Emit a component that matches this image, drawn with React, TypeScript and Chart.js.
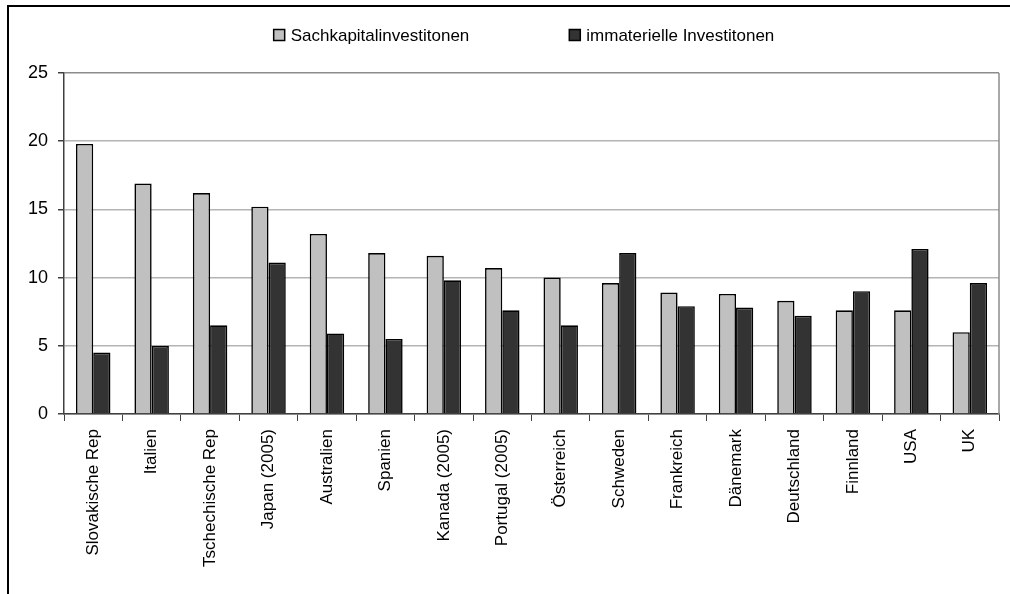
import React, { useEffect, useRef } from "react";
import { Chart, registerables } from "chart.js";

Chart.register(...registerables);

const categories = [
  "Slovakische Rep",
  "Italien",
  "Tschechische Rep",
  "Japan (2005)",
  "Australien",
  "Spanien",
  "Kanada (2005)",
  "Portugal (2005)",
  "Österreich",
  "Schweden",
  "Frankreich",
  "Dänemark",
  "Deutschland",
  "Finnland",
  "USA",
  "UK",
];

const seriesNames = ["Sachkapitalinvestitonen", "immaterielle Investitonen"];

const sachkapital = [19.8, 16.9, 16.2, 15.2, 13.2, 11.8, 11.6, 10.7, 10.0, 9.6, 8.9, 8.8, 8.3, 7.6, 7.6, 6.0];
const immateriell = [4.5, 5.0, 6.5, 11.1, 5.9, 5.5, 9.8, 7.6, 6.5, 11.8, 7.9, 7.8, 7.2, 9.0, 12.1, 9.6];

const yTicks = [0, 5, 10, 15, 20, 25];

const FONT_FAMILY = '"Liberation Sans Narrow", "Arial Narrow", "Liberation Sans", Arial, sans-serif';

const legendPlugin = {
  id: "customLegend",
  afterDraw(chart: any) {
    const ctx = chart.ctx;
    const ds = chart.data.datasets;
    ctx.save();
    ctx.font = `17px ${FONT_FAMILY}`;
    ctx.textBaseline = "middle";
    ctx.textAlign = "left";
    const box = 11;
    const gapBox = 6;
    const gapItem = 100;
    const widths = ds.map((d: any) => box + gapBox + ctx.measureText(d.label).width);
    const total = widths.reduce((a: number, b: number) => a + b, 0) + gapItem * (ds.length - 1);
    let x = 524 - total / 2;
    const y = 35;
    ds.forEach((d: any, i: number) => {
      ctx.fillStyle = d.backgroundColor;
      ctx.fillRect(x, y - box / 2, box, box);
      ctx.strokeStyle = "#000";
      ctx.lineWidth = 1.5;
      ctx.strokeRect(x, y - box / 2, box, box);
      ctx.fillStyle = "#000";
      ctx.fillText(d.label, x + box + gapBox, y + 1);
      x += widths[i] + gapItem;
    });
    ctx.restore();
  },
};

const borderPlugin = {
  id: "plotBorder",
  beforeDatasetsDraw(chart: any) {
    const { ctx, chartArea } = chart;
    ctx.save();
    ctx.strokeStyle = "#8c8c8c";
    ctx.lineWidth = 1.5;
    ctx.beginPath();
    ctx.moveTo(chartArea.right, chartArea.top);
    ctx.lineTo(chartArea.right, chartArea.bottom);
    ctx.stroke();
    ctx.restore();
  },
};

export default function App() {
  const ref = useRef<HTMLCanvasElement | null>(null);

  useEffect(() => {
    if (!ref.current) return;
    const chart = new Chart(ref.current, {
      type: "bar",
      data: {
        labels: categories,
        datasets: [
          {
            label: seriesNames[0],
            data: sachkapital,
            backgroundColor: "#c0c0c0",
            borderColor: "#000",
            borderWidth: 1.6,
            categoryPercentage: 0.59,
            barPercentage: 1,
          },
          {
            label: seriesNames[1],
            data: immateriell,
            backgroundColor: "#333333",
            borderColor: "#000",
            borderWidth: 1.6,
            categoryPercentage: 0.59,
            barPercentage: 1,
          },
        ],
      },
      options: {
        responsive: false,
        animation: false,
        devicePixelRatio: 1,
        layout: { padding: { top: 73, right: 11, left: 0, bottom: 0 } },
        plugins: {
          legend: { display: false },
          tooltip: { enabled: false },
        },
        scales: {
          x: {
            grid: {
              display: true,
              drawOnChartArea: false,
              drawTicks: true,
              tickLength: 7,
              color: "#404040",
              offset: true,
            },
            border: { color: "#404040", width: 1.5 },
            ticks: {
              minRotation: 90,
              maxRotation: 90,
              autoSkip: false,
              padding: 8,
              color: "#000",
              font: { family: FONT_FAMILY, size: 17 },
            },
            afterFit: (s: any) => {
              s.height = 180;
            },
          },
          y: {
            min: 0,
            max: 25,
            afterBuildTicks: (s: any) => {
              s.ticks = yTicks.map((v) => ({ value: v }));
            },
            grid: {
              color: (c: any) => (c.tick && c.tick.value === 25 ? "#8c8c8c" : "#b4b4b4"),
              lineWidth: 1.5,
              tickLength: 6,
              tickColor: "#404040",
            },
            border: { color: "#404040", width: 1.5 },
            ticks: {
              padding: 10,
              color: "#000",
              font: { family: FONT_FAMILY, size: 18 },
            },
            afterFit: (s: any) => {
              s.width = 64;
            },
          },
        },
      },
      plugins: [legendPlugin, borderPlugin],
    });
    return () => chart.destroy();
  }, []);

  return (
    <div
      style={{
        position: "absolute",
        left: 0,
        top: 0,
        width: 1010,
        height: 594,
        overflow: "hidden",
        background: "#fff",
      }}
    >
      <div
        style={{
          position: "absolute",
          left: 7,
          top: 5,
          width: 1100,
          height: 700,
          border: "2px solid #000",
        }}
      />
      <canvas
        ref={ref}
        width={1010}
        height={594}
        style={{ position: "absolute", left: 0, top: 0, width: 1010, height: 594 }}
      />
    </div>
  );
}
